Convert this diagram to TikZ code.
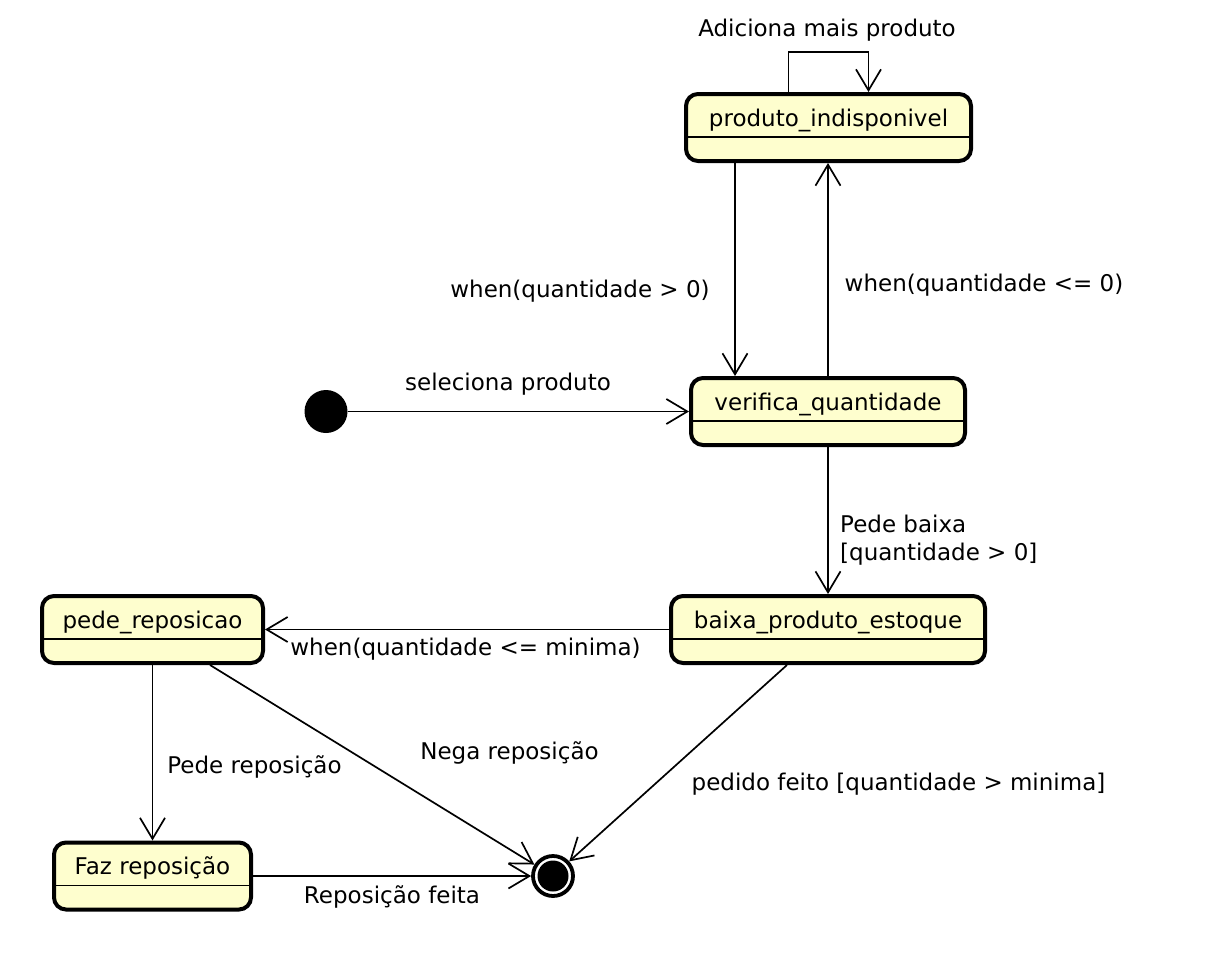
\documentclass[tikz,border=0pt]{standalone}
\usepackage{fontspec}
\setmainfont{DejaVu Sans}
\usetikzlibrary{arrows.meta}
\definecolor{statefill}{HTML}{FEFECE}

\begin{document}
\begin{tikzpicture}[x=1pt,y=-1pt,
  every node/.style={font=\fontsize{23}{28}\selectfont},
  statebox/.style={draw=black, fill=statefill, line width=4pt, rounded corners=12pt,
    inner sep=0pt, outer sep=2pt, text height=32pt, text depth=35pt},
  startdot/.style={circle, fill=black, minimum size=43pt, inner sep=0pt},
  enddot/.style={circle, draw=black, line width=3.8pt, minimum size=40pt, inner sep=0pt,
    path picture={\fill[black] (path picture bounding box.center) circle (15.5pt);}},
  trans/.style={line width=1.7pt, -{Straight Barb[length=21pt,width=25pt]}},
  divider/.style={line width=1.8pt},
  guard/.style={anchor=base, inner sep=0pt}]
\useasboundingbox (0,0) rectangle (1228,966);
\node[statebox, minimum width=285pt] (indisponivel) at (828.5,127.5) {produto\_indisponivel};
\node[statebox, minimum width=274pt] (verifica) at (828,411.5) {verifica\_quantidade\ };
\node[statebox, minimum width=314pt] (baixa) at (828,629.5) {baixa\_produto\_estoque};
\node[statebox, minimum width=221pt] (pede) at (152.5,629.5) {pede\_reposicao};
\node[statebox, minimum width=197pt] (faz) at (152.5,876) {Faz reposição};
\node[startdot] (inicio) at (326,411.5) {};
\node[enddot] (fim) at (553,876) {};
\draw[divider] ([yshift=-45pt]indisponivel.north west) -- ([yshift=-45pt]indisponivel.north east);
\draw[divider] ([yshift=-45pt]verifica.north west) -- ([yshift=-45pt]verifica.north east);
\draw[divider] ([yshift=-45pt]baixa.north west) -- ([yshift=-45pt]baixa.north east);
\draw[divider] ([yshift=-45pt]pede.north west) -- ([yshift=-45pt]pede.north east);
\draw[divider] ([yshift=-45pt]faz.north west) -- ([yshift=-45pt]faz.north east);
\coordinate (loopa) at ([xshift=-40pt]indisponivel.north);
\coordinate (loopb) at ([xshift=40pt]indisponivel.north);
\draw[trans] (loopa) -- ++(0,-40) -| (loopb);
\node[guard] (adiciona) at (827,37) {Adiciona mais produto};
\coordinate (desce) at ([xshift=-93.5pt]indisponivel.south);
\draw[trans] (desce) -- (desce |- verifica.north);
\node[guard] (quandopos) at (580,297) {when(quantidade > 0)};
\draw[trans] (verifica.north) -- (verifica.north |- indisponivel.south);
\node[guard] (quandozero) at (984,291) {when(quantidade <= 0)};
\draw[trans] (inicio) -- (verifica);
\node[guard] (seleciona) at (508,390) {seleciona produto};
\draw[trans] (verifica) -- (baixa);
\node[guard, anchor=base west] (pedebaixa) at (840,532) {Pede baixa};
\node[guard, anchor=base west] (pedebaixaguarda) at (840,560) {[quantidade > 0]};
\draw[trans] (baixa) -- (pede);
\node[guard] (minima) at (465.5,655) {when(quantidade <= minima)};
\draw[trans] (pede) -- (faz);
\node[guard] (pederep) at (254.5,773) {Pede reposição};
\coordinate (nega) at ([xshift=57.5pt]pede.south);
\draw[trans] (nega) -- (fim);
\node[guard] (negarep) at (509.5,759) {Nega reposição};
\coordinate (feito) at ([xshift=-41pt]baixa.south);
\draw[trans] (feito) -- (fim);
\node[guard] (pedido) at (898.5,790) {pedido feito [quantidade > minima]};
\draw[trans] (faz) -- (fim);
\node[guard] (repfeita) at (392,903) {Reposição feita};
\end{tikzpicture}
\end{document}
